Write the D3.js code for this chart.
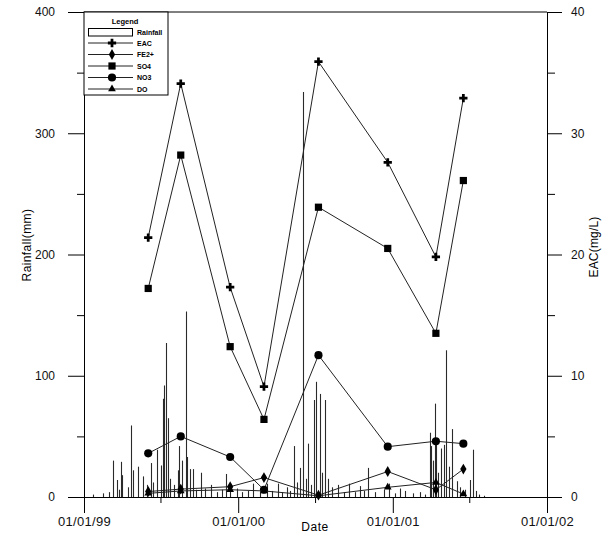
<!DOCTYPE html>
<html>
<head>
<meta charset="utf-8">
<script src="https://cdn.jsdelivr.net/npm/d3@7"></script>
<style>
  body { margin: 0; background: #fff; }
</style>
</head>
<body>
<div id="chart"></div>
<script>
// sampling dates and concentrations (mg/L, right axis)
var sampleDates = ["1999-06-02", "1999-08-18", "1999-12-13", "2000-03-02", "2000-07-09", "2000-12-20", "2001-04-13", "2001-06-17"];
var eac = [21.4, 34.1, 17.3, 9.1, 35.9, 27.6, 19.8, 32.9];
var fe2 = [0.45, 0.65, 0.85, 1.6, 0.15, 2.1, 0.6, 2.3];
var so4 = [17.2, 28.2, 12.4, 6.4, 23.9, 20.5, 13.5, 26.1];
var no3 = [3.6, 5.0, 3.3, 0.6, 11.7, 4.15, 4.6, 4.4];
var dox = [0.3, 0.5, 0.6, 0.5, 0.1, 0.8, 1.2, 0.25];

// daily rainfall events (mm, left axis)
var rainDates = [
  "1999-01-23", "1999-02-16", "1999-02-28", "1999-03-11", "1999-03-19", "1999-03-26", "1999-03-30", "1999-04-02",
  "1999-04-14", "1999-04-23", "1999-04-26", "1999-05-10", "1999-05-20", "1999-05-29", "1999-06-09", "1999-06-14",
  "1999-06-23", "1999-07-03", "1999-07-07", "1999-07-10", "1999-07-15", "1999-07-18", "1999-07-24", "1999-08-03",
  "1999-08-11", "1999-08-15", "1999-08-22", "1999-08-30", "1999-09-02", "1999-09-08", "1999-09-16", "1999-09-24",
  "1999-10-05", "1999-10-15", "1999-10-29", "1999-11-12", "1999-11-24", "1999-12-04", "1999-12-13", "1999-12-29",
  "2000-01-11", "2000-01-25", "2000-02-06", "2000-02-22", "2000-03-09", "2000-03-21", "2000-04-05", "2000-04-14",
  "2000-04-25", "2000-05-03", "2000-05-11", "2000-05-20", "2000-05-27", "2000-06-03", "2000-06-10", "2000-06-15",
  "2000-06-22", "2000-06-29", "2000-07-04", "2000-07-13", "2000-07-18", "2000-07-25", "2000-08-01", "2000-08-10",
  "2000-08-25", "2000-09-08", "2000-09-20", "2000-10-04", "2000-10-16", "2000-10-25", "2000-11-04", "2000-11-20",
  "2000-12-10", "2000-12-24", "2001-01-06", "2001-01-18", "2001-01-30", "2001-02-17", "2001-03-06", "2001-03-18",
  "2001-03-29", "2001-04-02", "2001-04-05", "2001-04-10", "2001-04-14", "2001-04-17", "2001-04-26", "2001-05-02",
  "2001-05-08", "2001-05-14", "2001-05-22", "2001-06-01", "2001-06-08", "2001-06-22", "2001-07-02", "2001-07-11",
  "2001-07-18", "2001-07-25", "2001-08-04"
];
var rainMm = [
  2, 3, 4, 30, 14, 6, 29, 18,
  8, 59, 22, 25, 17, 10, 28, 12,
  39, 26, 81, 92, 127, 65, 15, 10,
  22, 42, 30, 153, 33, 23, 23, 6,
  20, 7, 10, 4, 6, 19, 8, 7,
  4, 5, 11, 4, 11, 5, 11, 4,
  8, 5, 42, 12, 24, 334, 15, 44,
  10, 80, 95, 85, 20, 80, 15, 8,
  10, 4, 11, 4, 9, 5, 24, 4,
  6, 11, 3, 7, 5, 3, 4, 2,
  53, 42, 30, 77, 44, 20, 40, 43,
  121, 25, 56, 13, 8, 6, 14, 39,
  5, 2, 1
];

var rainTicks = [0, 100, 200, 300, 400];
var rainMinor = [50, 150, 250, 350];
var concTicks = [0, 10, 20, 30, 40];
var concMinor = [5, 15, 25, 35];
var dateTicks = ["1999-01-01", "2000-01-01", "2001-01-01", "2002-01-01"];
var dateMinor = ["1999-07-01", "2000-07-01", "2001-07-01"];

var parse = d3.timeParse("%Y-%m-%d");
var font = "'Liberation Sans', Arial, sans-serif";

var svg = d3.select("#chart")
  .append("svg")
  .attr("width", 606)
  .attr("height", 534)
  .style("background-color", "#fff");

var x = d3.scaleTime()
  .domain([parse("1999-01-01"), parse("2002-01-01")])
  .range([84, 547]);
var yL = d3.scaleLinear().domain([0, 400]).range([497, 12]);
var yR = d3.scaleLinear().domain([0, 40]).range([497, 12]);

// rainfall as thin bars
var rain = rainDates.map((d, i) => ({ date: parse(d), v: rainMm[i] }));
svg.append("g")
  .selectAll("line")
  .data(rain)
  .join("line")
  .attr("x1", d => Math.round(x(d.date)) + 0.5)
  .attr("x2", d => Math.round(x(d.date)) + 0.5)
  .attr("y1", yL(0))
  .attr("y2", d => yL(d.v))
  .attr("stroke", "#2a2a2a")
  .attr("stroke-width", 1.1);

// axes
function styleAxis(g) {
  g.selectAll("path, line").attr("stroke", "#000").attr("stroke-width", 1);
  g.selectAll("text")
    .style("font-family", font)
    .style("font-size", "12px")
    .attr("fill", "#111");
}

svg.append("g")
  .attr("transform", "translate(84,0)")
  .call(d3.axisLeft(yL).tickValues(rainTicks).tickSize(16).tickSizeOuter(0).tickPadding(13))
  .call(styleAxis);
svg.append("g")
  .attr("transform", "translate(84,0)")
  .call(d3.axisLeft(yL).tickValues(rainMinor).tickSize(7).tickFormat(""))
  .call(g => g.select(".domain").remove())
  .call(styleAxis);

svg.append("g")
  .attr("transform", "translate(547,0)")
  .call(d3.axisRight(yR).tickValues(concTicks).tickSize(15).tickSizeOuter(0).tickPadding(9))
  .call(styleAxis);
svg.append("g")
  .attr("transform", "translate(547,0)")
  .call(d3.axisRight(yR).tickValues(concMinor).tickSize(8).tickFormat(""))
  .call(g => g.select(".domain").remove())
  .call(styleAxis);

svg.append("g")
  .attr("transform", "translate(0,497)")
  .call(d3.axisBottom(x).tickValues(dateTicks.map(parse)).tickSize(16).tickSizeOuter(0)
    .tickPadding(4).tickFormat(d3.timeFormat("%m/%d/%y")))
  .call(styleAxis)
  .call(g => g.selectAll("text").style("font-size", "13px").style("letter-spacing", "0.3px"));
svg.append("g")
  .attr("transform", "translate(0,497)")
  .call(d3.axisBottom(x).tickValues(dateMinor.map(parse)).tickSize(6).tickFormat(""))
  .call(g => g.select(".domain").remove())
  .call(styleAxis);

// top frame line
svg.append("line")
  .attr("x1", x.range()[0]).attr("x2", x.range()[1])
  .attr("y1", yL(400)).attr("y2", yL(400))
  .attr("stroke", "#000");

// concentration series
var series = [
  { name: "EAC", values: eac, symbol: d3.symbolCross, size: 38 },
  { name: "FE2+", values: fe2, symbol: d3.symbolDiamond, size: 34 },
  { name: "SO4", values: so4, symbol: d3.symbolSquare, size: 52 },
  { name: "NO3", values: no3, symbol: d3.symbolCircle, size: 52 },
  { name: "DO", values: dox, symbol: d3.symbolTriangle, size: 26 }
];

var line = d3.line()
  .x(d => x(d.date))
  .y(d => yR(d.v));

series.forEach(function(s) {
  var pts = sampleDates.map((d, i) => ({ date: parse(d), v: s.values[i] }));
  svg.append("path")
    .datum(pts)
    .attr("fill", "none")
    .attr("stroke", "#222")
    .attr("stroke-width", 1)
    .attr("d", line);
  svg.append("g")
    .selectAll("path")
    .data(pts)
    .join("path")
    .attr("transform", d => "translate(" + x(d.date) + "," + yR(d.v) + ")")
    .attr("d", d3.symbol().type(s.symbol).size(s.size))
    .attr("fill", "#000");
});

// legend
var legend = svg.append("g");
legend.append("rect")
  .attr("x", 84).attr("y", 12).attr("width", 84).attr("height", 83)
  .attr("fill", "#fff").attr("stroke", "#000").attr("stroke-width", 1);
legend.append("text")
  .attr("x", 125).attr("y", 24)
  .attr("text-anchor", "middle")
  .style("font-family", font).style("font-size", "7.5px").style("font-weight", "bold")
  .text("Legend");
legend.append("rect")
  .attr("x", 88.5).attr("y", 28.5).attr("width", 44).attr("height", 7.5)
  .attr("fill", "#fff").attr("stroke", "#000").attr("stroke-width", 1);
legend.append("text")
  .attr("x", 137).attr("y", 35)
  .style("font-family", font).style("font-size", "7px").style("font-weight", "bold")
  .text("Rainfall");

series.forEach(function(s, i) {
  var ly = 43 + i * 11.5;
  legend.append("line")
    .attr("x1", 88).attr("x2", 133).attr("y1", ly).attr("y2", ly)
    .attr("stroke", "#222");
  legend.append("path")
    .attr("transform", "translate(112," + ly + ")")
    .attr("d", d3.symbol().type(s.symbol).size(s.size))
    .attr("fill", "#000");
  legend.append("text")
    .attr("x", 137).attr("y", ly + 2.5)
    .style("font-family", font).style("font-size", "7px").style("font-weight", "bold")
    .text(s.name);
});

// axis titles
svg.append("text")
  .attr("transform", "translate(31,245) rotate(-90)")
  .attr("text-anchor", "middle")
  .style("font-family", font).style("font-size", "12px").style("letter-spacing", "0.4px")
  .text("Rainfall(mm)");

svg.append("text")
  .attr("transform", "translate(598,247) rotate(-90)")
  .attr("text-anchor", "middle")
  .style("font-family", font).style("font-size", "12px").style("letter-spacing", "0.2px")
  .text("EAC(mg/L)");

svg.append("text")
  .attr("x", 315).attr("y", 531)
  .attr("text-anchor", "middle")
  .style("font-family", font).style("font-size", "12px").style("letter-spacing", "0.5px")
  .text("Date");
</script>
</body>
</html>
